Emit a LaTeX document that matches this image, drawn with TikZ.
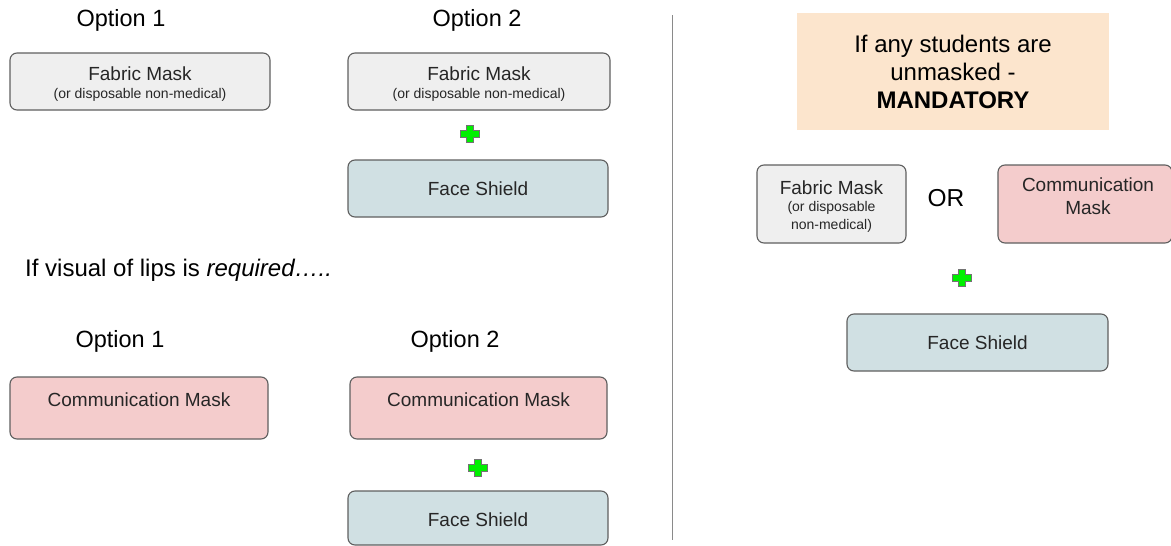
\documentclass[tikz,border=0pt]{standalone}
\usepackage{fontspec}
\setmainfont{Liberation Sans}
\definecolor{fabricfill}{HTML}{EFEFEF}
\definecolor{shieldfill}{HTML}{D0E0E3}
\definecolor{commfill}{HTML}{F4CCCC}
\definecolor{notefill}{HTML}{FCE5CD}
\definecolor{boxline}{HTML}{5F5F5F}
\definecolor{plusgreen}{HTML}{00F000}
\definecolor{divider}{HTML}{8A8A8A}
\begin{document}
\begin{tikzpicture}[x=1pt,y=-1pt,
  box/.style={draw=boxline, line width=1.1pt, rounded corners=7pt, inner sep=0pt},
  fabric/.style={box, fill=fabricfill},
  shield/.style={box, fill=shieldfill},
  comm/.style={box, fill=commfill},
  heading/.style={inner sep=0pt, font=\fontsize{23.5}{26}\selectfont},
  boxtext/.style={inner sep=0pt, font=\fontsize{19}{22}\selectfont, text=black!85},
  smalltext/.style={inner sep=0pt, font=\fontsize{14}{18}\selectfont, text=black!85},
  plus/.pic={\draw[draw=black!55, line width=0.6pt, fill=plusgreen]
    (-9.5,-3.5)--(-3.5,-3.5)--(-3.5,-8.5)--(3.5,-8.5)--(3.5,-3.5)--(9.5,-3.5)--(9.5,3.5)
    --(3.5,3.5)--(3.5,8.5)--(-3.5,8.5)--(-3.5,3.5)--(-9.5,3.5)--cycle;}
]
\useasboundingbox (0,0) rectangle (1171,546);

% ---- upper left: everyday choices ----
\node[heading] (opt1a) at (121,20) {Option 1};
\node[heading] (opt2a) at (477,20) {Option 2};

\node[fabric, minimum width=260pt, minimum height=57pt] (fm1) at (140,81.5) {};
\node[boxtext] (fm1t) at (140,74) {Fabric Mask};
\node[smalltext] (fm1s) at (140,95) {(or disposable non-medical)};

\node[fabric, minimum width=262pt, minimum height=57pt] (fm2) at (479,81.5) {};
\node[boxtext] (fm2t) at (479,74) {Fabric Mask};
\node[smalltext] (fm2s) at (479,95) {(or disposable non-medical)};

\pic (plus1) at (470,134) {plus};

\node[shield, minimum width=260pt, minimum height=57pt] (fs1) at (478,188.5) {};
\node[boxtext] (fs1t) at (478,189) {Face Shield};

% ---- lower left: when lips must be visible ----
\node[heading, anchor=west, font=\fontsize{24}{26}\selectfont] (lips) at (25,270) {If visual of lips is \textit{required…..}};

\node[heading] (opt1b) at (120,341) {Option 1};
\node[heading] (opt2b) at (455,341) {Option 2};

\node[comm, minimum width=258pt, minimum height=62pt] (cm1) at (139,408) {};
\node[boxtext] (cm1t) at (139,400) {Communication Mask};

\node[comm, minimum width=257pt, minimum height=62pt] (cm2) at (478.5,408) {};
\node[boxtext] (cm2t) at (478.5,400) {Communication Mask};

\pic (plus2) at (478,468) {plus};

\node[shield, minimum width=260pt, minimum height=54pt] (fs2) at (478,518) {};
\node[boxtext] (fs2t) at (478,520) {Face Shield};

% ---- divider ----
\coordinate (divtop) at (672,15);
\coordinate (divbot) at (672,540);
\draw[divider, line width=0.9pt] (divtop) -- (divbot);

% ---- right: unmasked students ----
\node[fill=notefill, minimum width=312pt, minimum height=117pt, inner sep=0pt,
      align=center, font=\fontsize{24}{28}\selectfont] (note) at (953,71.5)
  {If any students are\\unmasked -\\\textbf{MANDATORY}};

\node[fabric, minimum width=149pt, minimum height=78pt] (fm3) at (831.5,204) {};
\node[boxtext] (fm3t) at (831.5,188) {Fabric Mask};
\node[smalltext] (fm3s) at (831.5,208) {(or disposable};
\node[smalltext] (fm3u) at (831.5,226) {non-medical)};

\node[heading, font=\fontsize{24.5}{26}\selectfont] (or) at (946,198) {OR};

\node[comm, minimum width=174pt, minimum height=78pt] (cm3) at (1085,204) {};
\node[boxtext, align=center, font=\fontsize{19}{23}\selectfont] (cm3t) at (1088,196) {Communication\\Mask};

\pic (plus3) at (962,278) {plus};

\node[shield, minimum width=261pt, minimum height=57pt] (fs3) at (977.5,342.5) {};
\node[boxtext] (fs3t) at (977.5,343) {Face Shield};
\end{tikzpicture}
\end{document}
